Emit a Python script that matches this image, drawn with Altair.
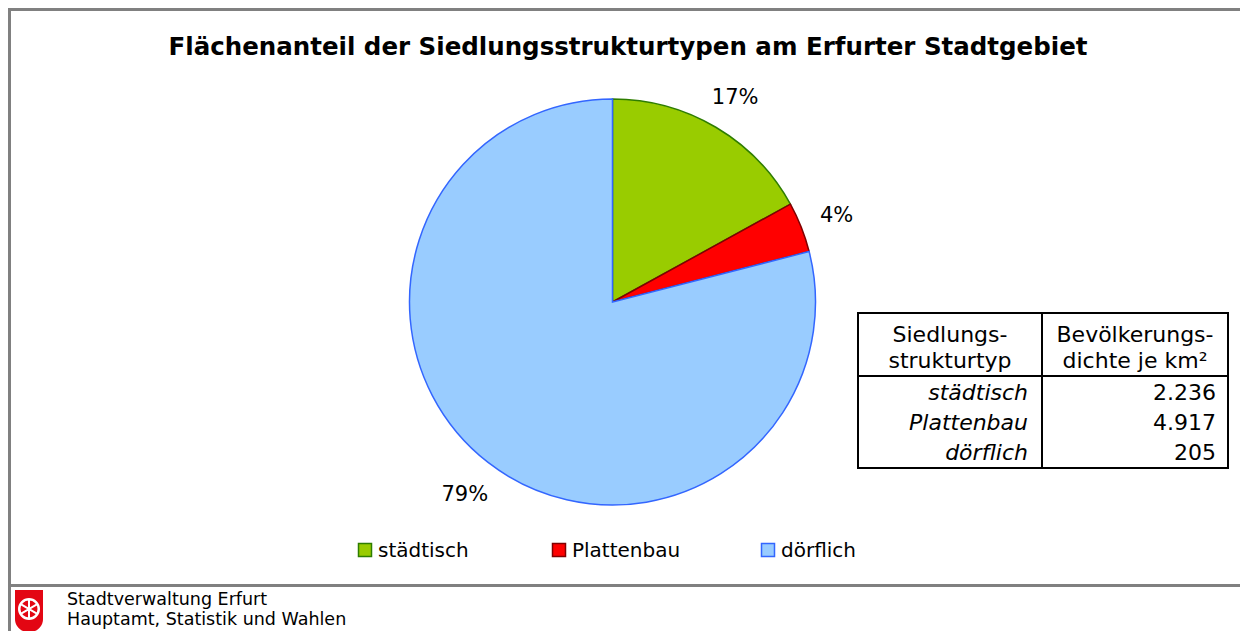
import altair as alt
import pandas as pd

# ---- data ----
categories = ["städtisch", "Plattenbau", "dörflich"]
shares = [17, 4, 79]
share_labels = ["17%", "4%", "79%"]
fill_colors = ["#99CC00", "#FF0000", "#99CCFF"]
stroke_colors = ["#2E7D00", "#800000", "#3366FF"]

table_types = ["städtisch", "Plattenbau", "dörflich"]
table_density = ["2.236", "4.917", "205"]
header_col1 = ["Siedlungs-", "strukturtyp"]
header_col2 = ["Bevölkerungs-", "dichte je km²"]

title_text = "Flächenanteil der Siedlungsstrukturtypen am Erfurter Stadtgebiet"
footer_lines = ["Stadtverwaltung Erfurt", "Hauptamt, Statistik und Wahlen"]

# ---- layout (pixels) ----
W, H = 1232, 623
FONT = "DejaVu Sans"
CX, CY, R = 604.5, 294, 203
legend_x = [357, 551, 760]
row_y = [392, 422, 452]

pie_df = pd.DataFrame({"cat": categories, "share": shares,
                       "label": share_labels, "ord": [1, 2, 3]})
tab_df = pd.DataFrame({"typ": table_types, "dens": table_density, "ord": [1, 2, 3]})
one = pd.DataFrame({"a": [0]})

color_scale = alt.Scale(domain=categories, range=fill_colors)
stroke_scale = alt.Scale(domain=categories, range=stroke_colors)

base = alt.Chart(pie_df)

pie = base.mark_arc(outerRadius=R, strokeWidth=1.5).encode(
    theta=alt.Theta("share:Q", stack=True),
    order=alt.Order("ord:Q"),
    color=alt.Color("cat:N", scale=color_scale, legend=None),
    stroke=alt.Stroke("cat:N", scale=stroke_scale, legend=None),
    x=alt.value(CX), y=alt.value(CY),
)

pie_text = base.mark_text(radius=241, fontSize=21, font=FONT, color="black",
                          baseline="middle", dy=3).encode(
    theta=alt.Theta("share:Q", stack=True),
    order=alt.Order("ord:Q"),
    text="label:N",
    x=alt.value(CX), y=alt.value(CY),
)

# legend
leg_x = alt.X("ord:Q", scale=alt.Scale(domain=[1, 2, 3], range=legend_x), axis=None)
leg_sq = base.mark_square(size=169, strokeWidth=1.5, opacity=1).encode(
    x=leg_x, y=alt.value(542),
    color=alt.Color("cat:N", scale=color_scale, legend=None),
    stroke=alt.Stroke("cat:N", scale=stroke_scale, legend=None),
)
leg_txt = base.mark_text(align="left", baseline="middle", dx=13, fontSize=20,
                         font=FONT, color="black").encode(
    x=leg_x, y=alt.value(543), text="cat:N")

# title
title = alt.Chart(one).mark_text(fontSize=24.5, fontWeight="bold", font=FONT,
                                 align="center", baseline="alphabetic",
                                 text=title_text).encode(
    x=alt.value(620), y=alt.value(47))

# frame
frame = alt.Chart(one).mark_rect(fillOpacity=0, stroke="#808080", strokeWidth=3).encode(
    x=alt.value(1.5), x2=alt.value(1400), y=alt.value(1.5), y2=alt.value(577.5))
frame_left = alt.Chart(one).mark_rule(stroke="#808080", strokeWidth=3).encode(
    x=alt.value(1.5), y=alt.value(577.5), y2=alt.value(700))

# table
tbox = alt.Chart(one).mark_rect(fillOpacity=0, stroke="black", strokeWidth=2).encode(
    x=alt.value(850), x2=alt.value(1220), y=alt.value(305), y2=alt.value(460))
tv = alt.Chart(one).mark_rule(stroke="black", strokeWidth=2).encode(
    x=alt.value(1034), y=alt.value(305), y2=alt.value(460))
th = alt.Chart(one).mark_rule(stroke="black", strokeWidth=2).encode(
    x=alt.value(850), x2=alt.value(1220), y=alt.value(368))
h1 = alt.Chart(one).mark_text(fontSize=22, font=FONT, align="center",
                              baseline="alphabetic", lineHeight=26,
                              text=header_col1).encode(
    x=alt.value(942), y=alt.value(334))
h2 = alt.Chart(one).mark_text(fontSize=22, font=FONT, align="center",
                              baseline="alphabetic", lineHeight=26,
                              text=header_col2).encode(
    x=alt.value(1127), y=alt.value(334))
row_scale = alt.Y("ord:Q", scale=alt.Scale(domain=[1, 2, 3], range=row_y), axis=None)
c1 = alt.Chart(tab_df).mark_text(fontSize=22, font=FONT, fontStyle="italic",
                                 align="right", baseline="alphabetic").encode(
    x=alt.value(1020), y=row_scale, text="typ:N")
c2 = alt.Chart(tab_df).mark_text(fontSize=22, font=FONT,
                                 align="right", baseline="alphabetic").encode(
    x=alt.value(1208), y=row_scale, text="dens:N")

# footer
logo = alt.Chart(one).mark_rect(color="#E30613", cornerRadiusBottomLeft=13,
                                cornerRadiusBottomRight=13).encode(
    x=alt.value(7), x2=alt.value(35), y=alt.value(582), y2=alt.value(624))
wheel = alt.Chart(one).mark_point(shape="circle", size=380, filled=False,
                                  stroke="white", strokeWidth=2.5, opacity=1).encode(
    x=alt.value(21), y=alt.value(601))
spokes = alt.Chart(one).mark_point(
    shape="M0,-1L0,1M-0.866,-0.5L0.866,0.5M-0.866,0.5L0.866,-0.5",
    size=330, filled=False, stroke="white", strokeWidth=2, opacity=1).encode(
    x=alt.value(21), y=alt.value(601))
foot = alt.Chart(one).mark_text(fontSize=17.5, font=FONT, align="left",
                                baseline="alphabetic", lineHeight=20,
                                text=footer_lines).encode(
    x=alt.value(59), y=alt.value(597))

chart = alt.layer(
    frame, frame_left, pie, pie_text, leg_sq, leg_txt, title,
    tbox, tv, th, h1, h2, c1, c2, logo, wheel, spokes, foot
).properties(
    width=W, height=H, padding=0,
    autosize=alt.AutoSizeParams(type="none"),
).configure_view(stroke=None)

chart.save("out.html", embed_options={"renderer": "svg", "actions": False})
